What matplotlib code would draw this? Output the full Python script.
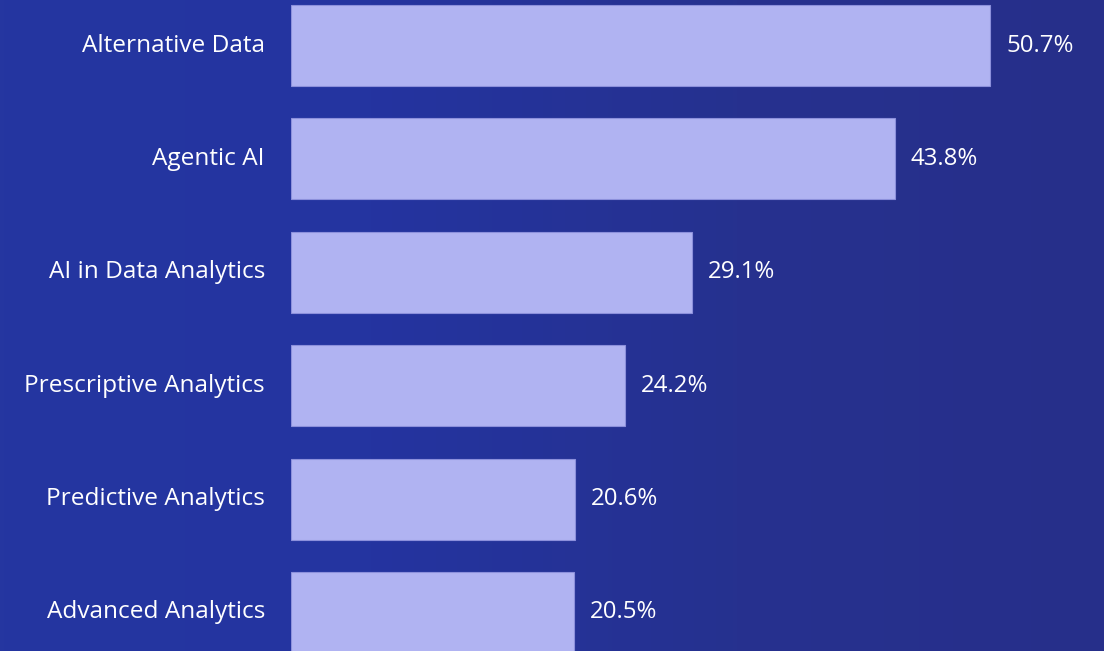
import matplotlib
matplotlib.use("Agg")
import matplotlib.pyplot as plt
import numpy as np
from matplotlib.colors import LinearSegmentedColormap

categories = ["Alternative Data", "Agentic AI", "AI in Data Analytics",
              "Prescriptive Analytics", "Predictive Analytics", "Advanced Analytics"]
values = [50.7, 43.8, 29.1, 24.2, 20.6, 20.5]
value_labels = ["50.7%", "43.8%", "29.1%", "24.2%", "20.6%", "20.5%"]

W, H = 1104, 651
fig = plt.figure(figsize=(W / 100, H / 100), dpi=100)

# background gradient
bg = fig.add_axes([0, 0, 1, 1])
grad = np.linspace(0, 1, 256).reshape(1, -1)
cmap = LinearSegmentedColormap.from_list("bg", ["#2536a0", "#2434a0", "#26318f", "#272f8a"])
bg.imshow(grad, aspect="auto", cmap=cmap, extent=[0, 1, 0, 1])
bg.set_axis_off()

left_px = 291
px_per_unit = (990 - 291) / 50.7
ax = fig.add_axes([left_px / W, 0, 1 - left_px / W, 1])
ax.set_facecolor("none")
ax.set_xlim(0, (W - left_px) / px_per_unit)
pitch = 113.4
c0 = 45.5
ax.set_ylim((H - c0) / pitch, -c0 / pitch)

y = np.arange(len(categories))
ax.barh(y, values, height=81 / pitch, color="#b0b3f2", edgecolor="#8c90dc", linewidth=0.8)

font = "Open Sans"
for yi, v, lab in zip(y, values, value_labels):
    ax.text(v + 16 / px_per_unit, yi, lab, va="center", ha="left",
            color="white", fontsize=17.3, family=font)
for yi, c in zip(y, categories):
    ax.text(-26 / px_per_unit, yi, c, va="center", ha="right",
            color="white", fontsize=17.6, family=font, clip_on=False)

ax.set_axis_off()
fig.savefig("out.png", dpi=100)
